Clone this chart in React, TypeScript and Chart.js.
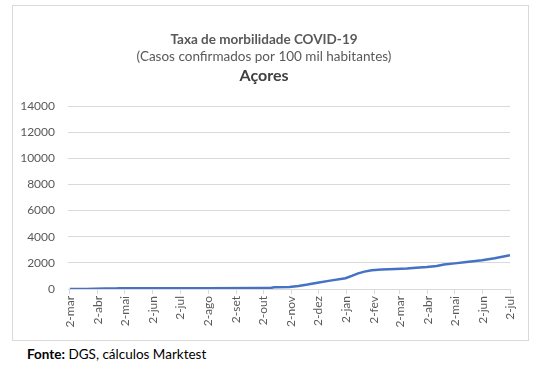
import React, { useEffect, useRef } from "react";
import { Chart, registerables } from "chart.js";

Chart.register(...registerables);

const titleLine = "Taxa de morbilidade COVID-19";
const subtitleLine = "(Casos confirmados por 100 mil habitantes)";
const regionLine = "Açores";
const sourceBold = "Fonte:";
const sourceText = " DGS, cálculos Marktest";

const startDate = "2020-03-02";

const tickDates = [
  "2020-03-02", "2020-04-02", "2020-05-02", "2020-06-02", "2020-07-02", "2020-08-02",
  "2020-09-02", "2020-10-02", "2020-11-02", "2020-12-02", "2021-01-02", "2021-02-02",
  "2021-03-02", "2021-04-02", "2021-05-02", "2021-06-02", "2021-07-02",
];
const tickLabels = [
  "2-mar", "2-abr", "2-mai", "2-jun", "2-jul", "2-ago", "2-set", "2-out", "2-nov",
  "2-dez", "2-jan", "2-fev", "2-mar", "2-abr", "2-mai", "2-jun", "2-jul",
];

const seriesDates = [
  "2020-03-02", "2020-03-20", "2020-04-10", "2020-04-22", "2020-04-26", "2020-06-01",
  "2020-08-01", "2020-10-01", "2020-10-10", "2020-10-14", "2020-10-31", "2020-11-10",
  "2020-11-20", "2020-12-01", "2020-12-15", "2021-01-01", "2021-01-08", "2021-01-15",
  "2021-01-22", "2021-01-30", "2021-02-10", "2021-02-25", "2021-03-10", "2021-03-20",
  "2021-04-01", "2021-04-12", "2021-04-20", "2021-05-02", "2021-05-15", "2021-06-01",
  "2021-06-15", "2021-07-02",
];
const seriesValues = [
  0, 5, 30, 40, 60, 62,
  65, 70, 80, 125, 150, 230,
  340, 480, 640, 820, 1000, 1200,
  1330, 1440, 1500, 1530, 1560, 1620,
  1680, 1760, 1880, 1960, 2060, 2200,
  2350, 2580,
];

const yMax = 14000;
const yStep = 2000;

const dayOf = (d: string) =>
  Math.round((Date.parse(d + "T00:00:00Z") - Date.parse(startDate + "T00:00:00Z")) / 86400000);

const FONT = "Lato, 'Open Sans', sans-serif";

const titlePlugin = {
  id: "titles",
  afterDraw(chart: any) {
    const ctx = chart.ctx;
    const cx = 251;
    ctx.save();
    ctx.textAlign = "center";
    ctx.textBaseline = "middle";
    ctx.fillStyle = "#595959";
    ctx.font = "bold 13.5px " + FONT;
    ctx.fillText(titleLine, cx, 34);
    ctx.font = "13.5px " + FONT;
    ctx.fillText(subtitleLine, cx, 51);
    ctx.fillStyle = "#404040";
    ctx.font = "bold 16px " + FONT;
    ctx.fillText(regionLine, cx, 70);
    ctx.restore();
  },
};

export default function App() {
  const ref = useRef<HTMLCanvasElement>(null);
  useEffect(() => {
    const tickDays = tickDates.map(dayOf);
    const points = seriesDates.map((d, i) => ({ x: dayOf(d), y: seriesValues[i] }));
    const chart = new Chart(ref.current!, {
      type: "line",
      data: {
        datasets: [
          {
            data: points,
            borderColor: "#4472C4",
            borderWidth: 2.5,
            pointRadius: 0,
            tension: 0,
            fill: false,
          },
        ],
      },
      options: {
        animation: false,
        responsive: false,
        maintainAspectRatio: false,
        layout: { padding: { left: 0, right: 18, top: 100, bottom: 0 } },
        plugins: {
          legend: { display: false },
          tooltip: { enabled: false },
          title: { display: false },
        },
        scales: {
          x: {
            type: "linear",
            min: -2,
            max: 487,
            afterBuildTicks: (scale: any) => {
              scale.ticks = tickDays.map((v) => ({ value: v }));
            },
            afterFit: (scale: any) => {
              scale.height = 51;
            },
            ticks: {
              autoSkip: false,
              minRotation: 90,
              maxRotation: 90,
              padding: 2,
              color: "#595959",
              font: { family: FONT, size: 12 },
              callback: (_v: any, i: number) => tickLabels[i],
            },
            grid: {
              drawOnChartArea: false,
              drawTicks: true,
              tickLength: 5,
              color: "#d9d9d9",
            },
            border: { display: true, color: "#d9d9d9", width: 1 },
          },
          y: {
            min: 0,
            max: yMax,
            afterFit: (scale: any) => {
              scale.width = 55;
            },
            ticks: {
              stepSize: yStep,
              padding: 13,
              color: "#595959",
              font: { family: FONT, size: 12 },
              callback: (v: any) => String(v),
            },
            grid: { color: "#d9d9d9", drawTicks: false },
            border: { display: false },
          },
        },
      },
      plugins: [titlePlugin],
    } as any);
    return () => chart.destroy();
  }, []);

  return (
    <div style={{ position: "absolute", left: 0, top: 0, width: 540, height: 375, background: "#fff" }}>
      <div
        style={{
          position: "absolute",
          left: 12,
          top: 5,
          width: 515,
          height: 334,
          border: "1px solid #d9d9d9",
        }}
      >
        <canvas ref={ref} width={515} height={334} style={{ display: "block" }} />
      </div>
      <div
        style={{
          position: "absolute",
          left: 27,
          top: 346,
          fontFamily: FONT,
          fontSize: 13.5,
          color: "#000",
          whiteSpace: "pre",
        }}
      >
        <b>{sourceBold}</b>
        {sourceText}
      </div>
    </div>
  );
}
